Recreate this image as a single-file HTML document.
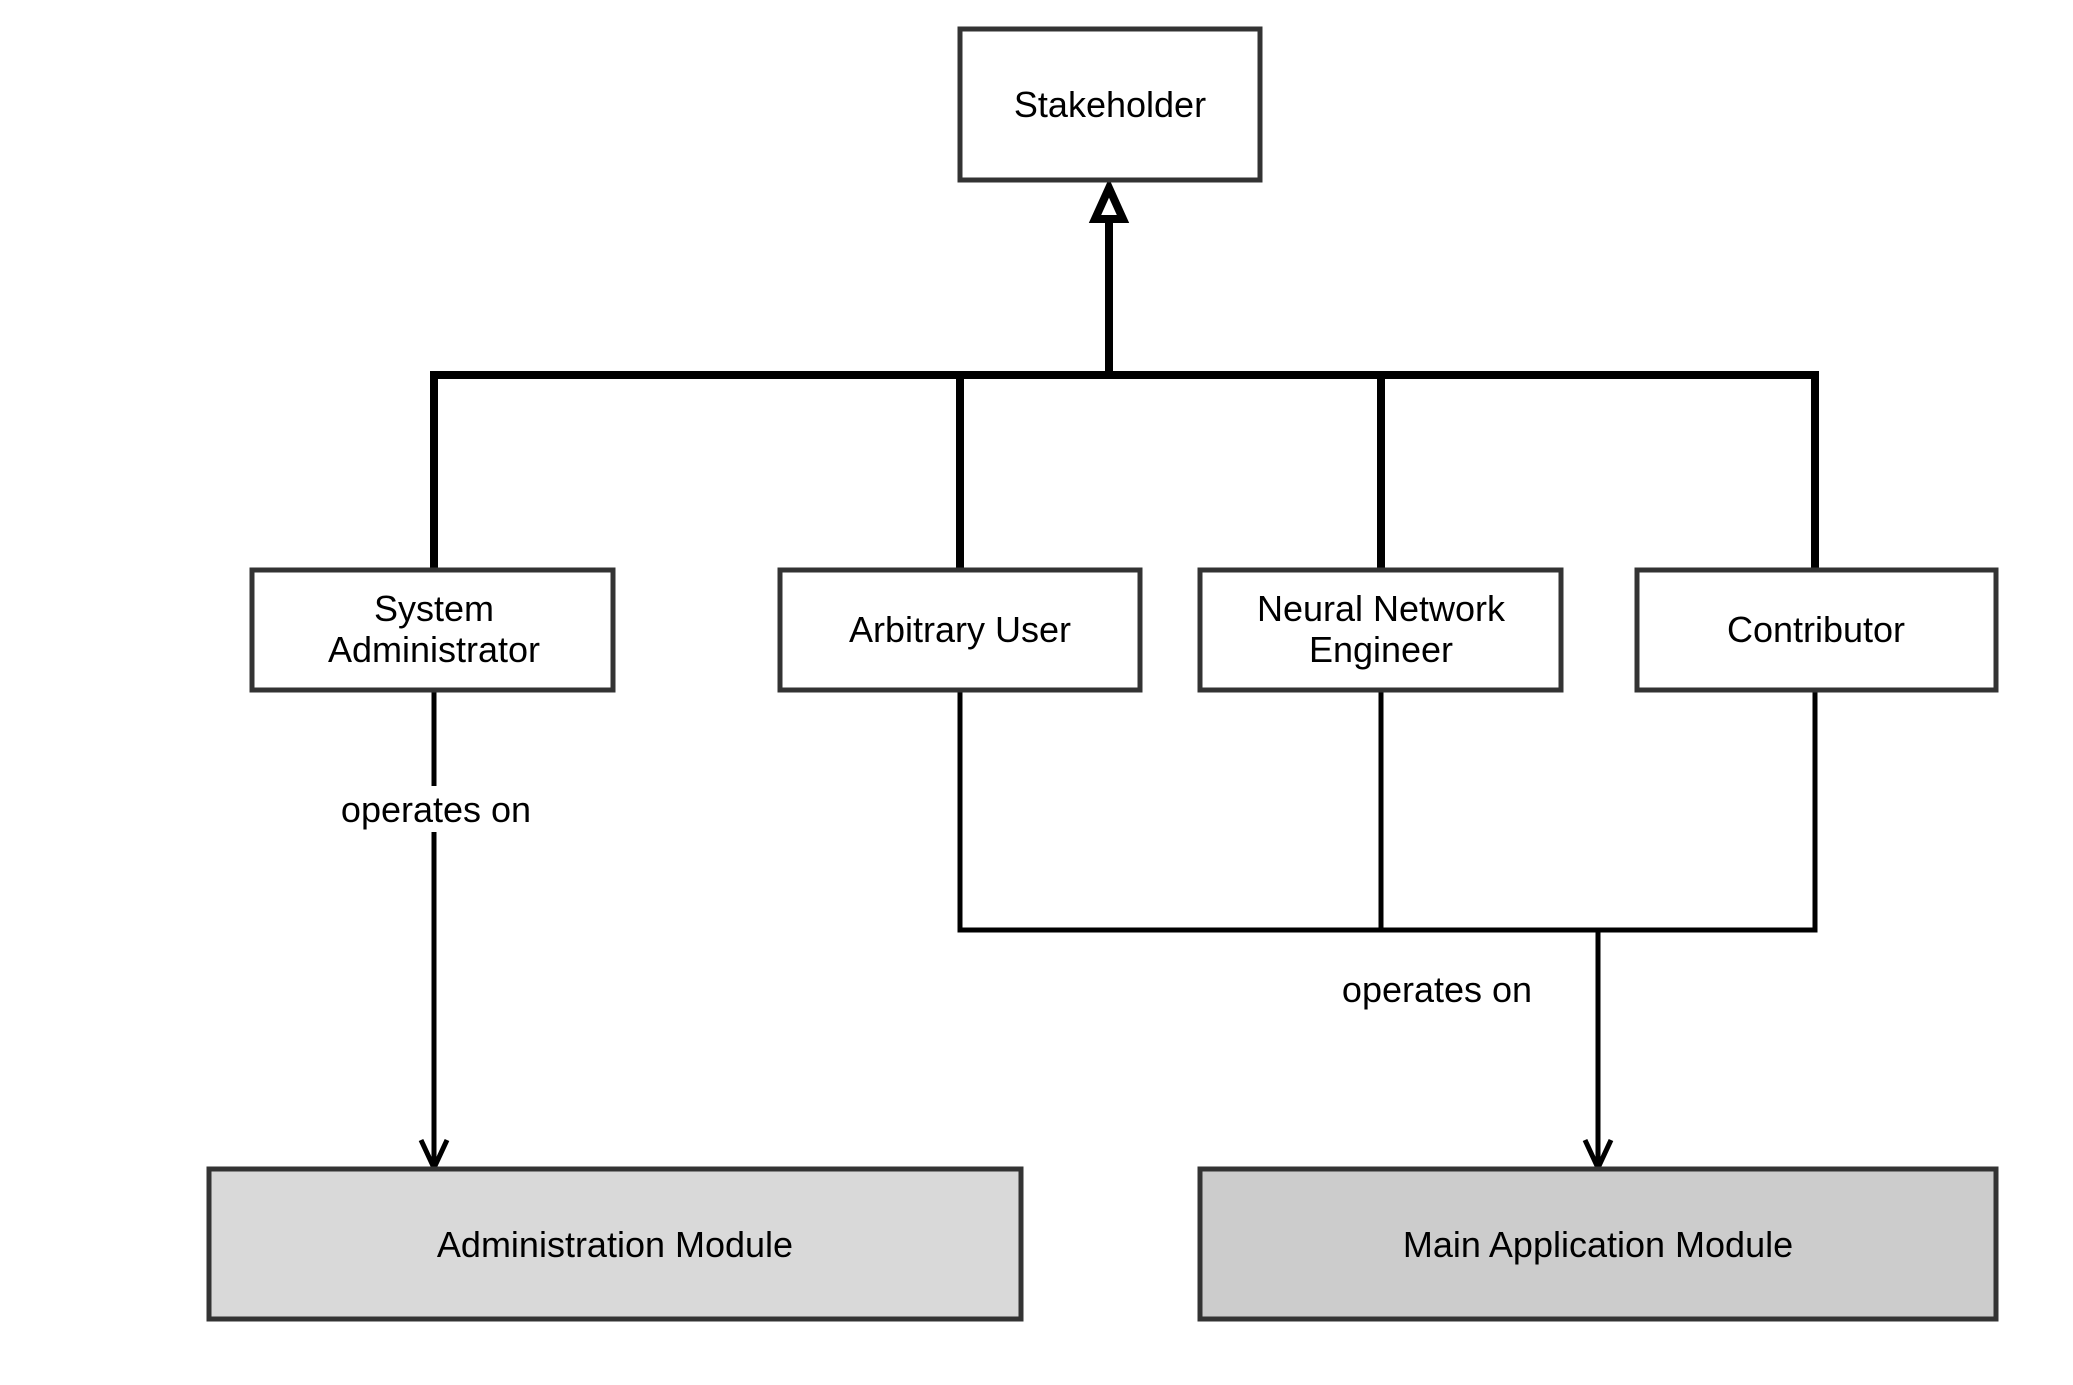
<!DOCTYPE html>
<html><head><meta charset="utf-8"><style>
html,body{margin:0;padding:0;background:#fff;}
svg text{font-family:"Liberation Sans",Arial,sans-serif;font-size:36px;fill:#000;text-anchor:middle;}
</style></head><body>
<svg width="2073" height="1380" xmlns="http://www.w3.org/2000/svg">
<rect width="2073" height="1380" fill="#fff"/>
<g fill="none" stroke="#000" stroke-width="8">
<polyline points="434,570 434,375 1815,375 1815,570"/>
<line x1="960" y1="375" x2="960" y2="570"/>
<line x1="1381" y1="375" x2="1381" y2="570"/>
<line x1="1109" y1="375" x2="1109" y2="218"/>
</g>
<polygon points="1109,188 1095,219 1123,219" fill="#fff" stroke="#000" stroke-width="8"/>
<g fill="none" stroke="#000" stroke-width="5">
<line x1="434" y1="690" x2="434" y2="1166"/>
<polyline points="960,690 960,930 1815,930 1815,690"/>
<line x1="1381" y1="690" x2="1381" y2="930"/>
<line x1="1598" y1="930" x2="1598" y2="1166"/>
<polyline points="421,1140 434,1168 447,1140"/>
<polyline points="1585,1140 1598,1168 1611,1140"/>
</g>
<g stroke="#333" stroke-width="5">
<rect x="960" y="29" width="300" height="151" fill="#fff"/>
<rect x="252" y="570" width="361" height="120" fill="#fff"/>
<rect x="780" y="570" width="360" height="120" fill="#fff"/>
<rect x="1200" y="570" width="361" height="120" fill="#fff"/>
<rect x="1637" y="570" width="359" height="120" fill="#fff"/>
<rect x="209" y="1169" width="812" height="150" fill="#d9d9d9"/>
<rect x="1200" y="1169" width="796" height="150" fill="#cccccc"/>
</g>
<rect x="334" y="786" width="204" height="46" fill="#fff"/>
<text x="1110" y="117">Stakeholder</text>
<text x="434" y="621">System</text>
<text x="434" y="662">Administrator</text>
<text x="960" y="642">Arbitrary User</text>
<text x="1381" y="621">Neural Network</text>
<text x="1381" y="662">Engineer</text>
<text x="1816" y="642">Contributor</text>
<text x="436" y="822">operates on</text>
<text x="1437" y="1002">operates on</text>
<text x="615" y="1257">Administration Module</text>
<text x="1598" y="1257">Main Application Module</text>
</svg>
</body></html>
